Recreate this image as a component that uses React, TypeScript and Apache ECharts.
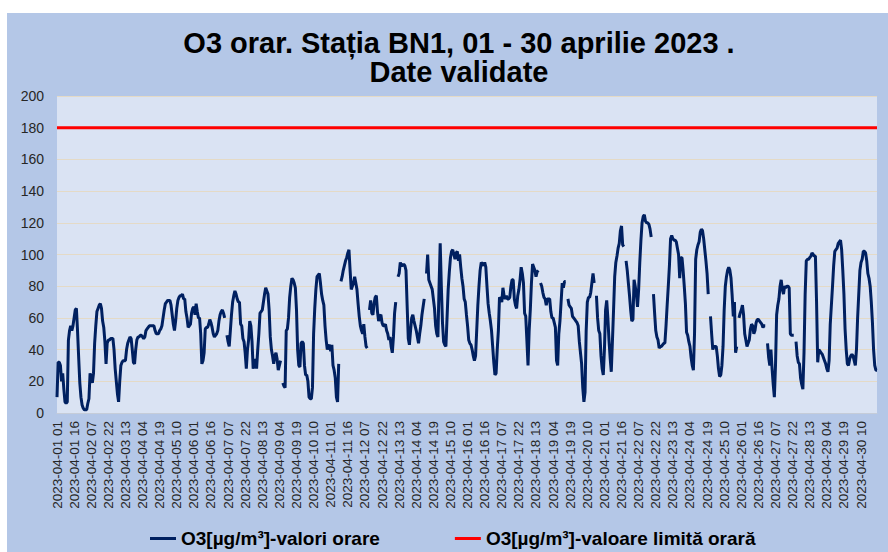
import React, { useEffect, useRef } from "react";
import * as echarts from "echarts";

const titleLines = ["O3 orar. Stația BN1, 01 - 30 aprilie 2023 .", "Date validate"];
const seriesNames = ["O3[µg/m³]-valori orare", "O3[µg/m³]-valoare limită orară"];
const days = Array.from({ length: 30 }, (_, i) => String(i + 1).padStart(2, "0"));
const hours = Array.from({ length: 24 }, (_, i) => String(i + 1).padStart(2, "0"));
const categories: string[] = [];
days.forEach((d) => hours.forEach((h) => categories.push(`2023-04-${d} ${h}`)));

const limitValue = 180;

// hourly O3 values (µg/m³), null = missing hour
const o3Values: (number | null)[] = [
  10, 32, 32, 30, 20, 25, 15, 7, 6, 7,
  46, 52, 55, 52, 55, 60, 65, 66, 52, 35,
  19, 10, 5, 3, 2, 2, 2, 6, 9, 25,
  22, 19, 25, 44, 55, 64, 66, 68, 69, 66,
  58, 54, 45, 31, 44, 46, 46, 47, 47, 47,
  40, 28, 20, 12, 7, 20, 30, 32, 33, 33,
  33, 40, 44, 46, 48, 47, 40, 32, 31, 40,
  46, 48, 48, 49, 49, 48, 47, 48, 52, 53,
  54, 55, 55, 55, 55, 55, 52, 50, 50, 50,
  52, 53, 55, 60, 65, 69, 70, 71, 71, 71,
  68, 62, 56, 52, 58, 66, 71, 73, 74, 74,
  75, 72, 72, 64, 60, 54, 55, 56, 63, 66,
  67, 62, 69, 64, 60, 60, 50, 31, 33, 38,
  53, 54, 54, 56, 59, 57, 54, 50, 48, 49,
  50, 52, 58, 62, 64, 65, 63, 60, null, 49,
  45, 42, 52, 62, 70, 74, 77, 75, 72, 70,
  70, 56, 55, 47, 45, 38, 28, 40, 46, 58,
  55, 45, 28, 32, 34, 28, 40, 50, 63, 64,
  65, 70, 75, 79, 77, 75, 65, 48, 40, 36,
  31, 36, 38, 34, 27, 30, 33, null, 19, 17,
  16, 52, 53, 60, 73, 80, 85, 84, 82, 79,
  65, 40, 30, 29, 44, 45, 44, 30, 24, 24,
  20, 10, 9, 9, 16, 50, 66, 78, 86, 87,
  88, 82, 75, 71, 68, 55, 46, 40, 42, 43,
  39, 43, 30, 27, 22, 10, 7, 31, null, 83,
  86, 90, 93, 96, 98, 101, 103, 90, 78, 80,
  82, 86, 82, 78, 69, 61, 55, 52, 50, 56,
  48, 42, 41, null, 65, 71, 63, 62, 69, 73,
  74, 64, 58, 61, 62, 57, 55, 55, 56, 52,
  50, 46, 48, 42, 38, 48, 63, 70, null, 86,
  88, 95, 93, 93, 94, 93, 90, 68, 47, 43,
  52, 60, 62, 58, 55, 52, 48, 44, 50, 55,
  62, 67, 72, null, 88, 100, 84, 82, 80, 78,
  72, 66, 55, 50, 48, 80, 107, 80, 57, 45,
  43, 42, 60, 78, 89, 98, 102, 103, 100, 97,
  101, 102, 96, 100, 92, 85, 80, 72, 70, 62,
  55, 46, 44, 43, 40, 36, 33, 36, 52, 68,
  80, 90, 95, 94, 93, 95, 92, 80, 69, 63,
  58, 52, 42, 32, 24, 25, 40, 52, 73, 72,
  70, 79, 74, 72, 74, 72, 72, 73, 80, 84,
  84, 72, 68, 66, 74, 78, 84, 92, 88, 82,
  63, 61, 46, 30, 52, 65, 82, 94, 92, 90,
  86, 89, 90, null, 82, 80, 76, 73, 72, 68,
  72, 72, 72, 64, 60, 60, 57, 54, 33, 30,
  50, 58, 70, 82, 79, 83, 83, null, 72, 68,
  67, 66, 61, 60, 59, 58, 57, 55, 45, 38,
  31, 16, 7, 13, 52, 70, 73, 73, 76, 82,
  88, 82, null, 74, 60, 52, 50, 36, 28, 24,
  40, 65, 71, 60, 46, 35, 26, 45, 65, 86,
  95, 99, 104, 107, 115, 118, 106, 105, null, 96,
  90, 82, 74, 65, 58, 59, 84, 80, 75, 67,
  78, 95, 109, 120, 124, 125, 121, 120, 120, 119,
  116, 111, null, 75, 63, 52, 48, 46, 41, 42,
  42, 43, 44, 44, 55, 68, 80, 93, 110, 112,
  110, 109, 109, 108, 104, 100, 85, 98, 98, 90,
  80, 69, 51, 49, 45, 42, 35, 30, 27, 50,
  97, 103, 106, 108, 114, 116, 115, 110, 103, 96,
  88, 75, null, 61, 50, 40, 42, 42, 42, 36,
  28, 23, 24, 30, 42, 65, 80, 86, 90, 92,
  90, 85, 74, 61, 70, 38, 42, null, 60, 63,
  65, 68, 62, 50, 46, 42, 44, 46, 53, 56,
  55, 50, 52, 57, 59, 59, 58, 57, 56, 54,
  55, 55, null, 44, 35, 30, 40, 28, 18, 10,
  30, 62, 68, 72, 80, 84, 78, 75, 80, 79,
  80, 80, 79, 50, 49, 49, 49, null, 45, 36,
  32, 31, 22, 18, 15, 38, 75, 96, 97, 97,
  98, 99, 101, 100, 99, 99, 70, 32, 40, 39,
  38, 37, 35, 33, 31, 28, 26, 33, 56, 68,
  80, 93, 102, 103, 104, 107, 108, 109, 103, 90,
  75, 53, 40, 31, 30, 34, 36, 37, 36, 33,
  30, 40, 60, 75, 90, 95, 97, 102, 102, 101,
  96, 88, 85, 80, 70, 57, 40, 30, 27, 27,
];

const limitValues = categories.map(() => limitValue);

const FONT = "'Liberation Sans', Arial, sans-serif";

export default function App() {
  const ref = useRef<HTMLDivElement>(null);
  useEffect(() => {
    if (!ref.current) return;
    const chart = echarts.init(ref.current, undefined, { renderer: "svg" });
    chart.setOption({
      animation: false,
      backgroundColor: "#b4c7e7",
      textStyle: { fontFamily: FONT },
      title: {
        text: titleLines.join("\n"),
        left: 447,
        top: 10,
        textAlign: "center",
        textStyle: {
          fontFamily: FONT,
          fontSize: 29,
          fontWeight: "bold",
          color: "#000",
          lineHeight: 29,
        },
      },
      legend: {
        left: 138,
        top: 511,
        itemWidth: 26,
        itemHeight: 3,
        itemGap: 75,
        textStyle: { fontFamily: FONT, fontSize: 19, fontWeight: "bold", color: "#000" },
        data: [
          { name: seriesNames[0], icon: "rect" },
          { name: seriesNames[1], icon: "rect" },
        ],
      },
      grid: {
        left: 50,
        right: 11,
        top: 83,
        bottom: 139,
        show: true,
        backgroundColor: "#dae3f3",
        borderWidth: 0,
      },
      xAxis: {
        type: "category",
        data: categories,
        boundaryGap: false,
        axisLine: { show: true, lineStyle: { color: "#c5ccd8", width: 1 } },
        axisTick: { show: false },
        splitLine: { show: false },
        axisLabel: {
          interval: 14,
          rotate: 90,
          fontSize: 13.5,
          color: "#262626",
          margin: 8,
          fontFamily: FONT,
        },
      },
      yAxis: {
        type: "value",
        min: 0,
        max: 200,
        interval: 20,
        axisLine: { show: false },
        axisTick: { show: false },
        axisLabel: { fontSize: 14, color: "#262626", margin: 13, fontFamily: FONT },
        splitLine: { lineStyle: { color: "#e4dac6", width: 1 } },
      },
      series: [
        {
          name: seriesNames[0],
          type: "line",
          data: o3Values,
          showSymbol: false,
          connectNulls: false,
          lineStyle: { color: "#002060", width: 3 },
          itemStyle: { color: "#002060" },
          z: 3,
        },
        {
          name: seriesNames[1],
          type: "line",
          data: limitValues,
          showSymbol: false,
          lineStyle: { color: "#ff0000", width: 3 },
          itemStyle: { color: "#ff0000" },
          z: 2,
        },
      ],
    });
    return () => chart.dispose();
  }, []);
  return (
    <div style={{ position: "absolute", left: 0, top: 0, width: 888, height: 552, background: "#fff" }}>
      <div ref={ref} style={{ position: "absolute", left: 7, top: 13, width: 881, height: 539 }} />
    </div>
  );
}
